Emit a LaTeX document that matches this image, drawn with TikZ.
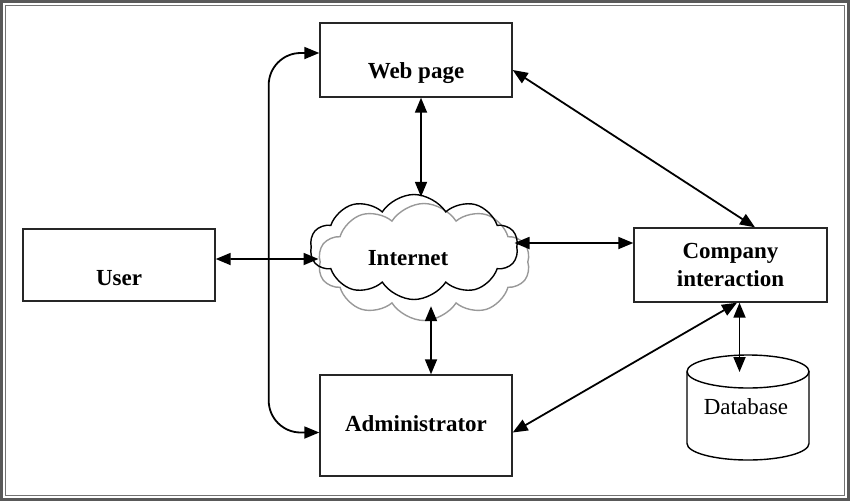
\documentclass[tikz,border=0pt]{standalone}
\usepackage{fontspec}
\setmainfont{Liberation Serif}
\usetikzlibrary{arrows.meta,shapes.symbols,calc}
\begin{document}
\begin{tikzpicture}[x=1pt,y=-1pt,
  box/.style={draw=black!85, line width=1.4pt, minimum width=192pt, minimum height=74pt, inner sep=0pt},
  lbl/.style={font=\fontsize{23}{28}\selectfont\bfseries, align=center, inner sep=0pt},
  arr/.style={line width=1.8pt, {Triangle[length=15pt,width=12pt]}-{Triangle[length=15pt,width=12pt]}},
  cl/.style={cloud, cloud puffs=10, cloud puff arc=115, cloud ignores aspect, draw, line width=1.4pt, inner sep=0pt}]
\useasboundingbox (0,0) rectangle (850,501);
% frame
\draw[line width=3pt, black!65] (1.5,1.5) rectangle (848.5,499.5);
\draw[line width=1.2pt, black!55] (5.5,5.5) rectangle (844.5,495.5);
% boxes
\node[box] (wp) at (416,60) {};
\node[box, minimum height=72pt] (user) at (119,265) {};
\node[box, minimum height=101pt] (admin) at (416,425.5) {};
\node[box, minimum width=193pt] (comp) at (730.5,265) {};
\node[lbl] at (416,73) {Web page};
\node[lbl] at (119,278) {User};
\node[lbl] at (416,424) {Administrator};
\node[lbl] at (730.5,265) {Company\\interaction};
% clouds
\node[cl, draw=black!40, minimum width=212pt, minimum height=117pt] (cloud2) at (424,262) {};
\node[cl, minimum width=208pt, minimum height=105pt] (cloud) at (414,247) {};
\node[lbl] (inet) at (408,258) {Internet};
% database
\draw[line width=1.4pt] (748,371.5) ellipse [x radius=61pt, y radius=16.5pt];
\draw[line width=1.4pt] (687,371.5) -- (687,443.5) arc[start angle=180, end angle=360, x radius=61pt, y radius=16.5pt] -- (809,371.5);
\coordinate (dbtop) at (739.5,372);
\node[font=\fontsize{23}{28}\selectfont, inner sep=0pt] (db) at (746,407) {Database};
% connectors
\draw[arr] ($(wp.south)+(5,0)$) -- ($(cloud.north)+(7,3)$);
\draw[arr] ($(user.east)+(0,-6)$) -- ($(cloud.west)+(8,12)$);
\draw[arr] ($(cloud.east)+(-3,-4)$) -- ($(comp.west)+(0,-22)$);
\draw[arr] ($(cloud.south)+(17,6)$) -- ($(admin.north)+(15,0)$);
\draw[arr] ($(wp.east)+(0,10)$) -- ($(comp.north)+(24.5,0)$);
\draw[arr] ($(admin.east)+(0,7)$) -- ($(comp.south)+(6.5,0)$);
\draw[arr] ($(comp.south)+(9,0)$) -- (dbtop);
\draw[arr, rounded corners=32pt] ($(wp.west)+(0,-7)$) -| ($(user.east)+(53,0)$) |- ($(admin.west)+(0,7)$);
\end{tikzpicture}
\end{document}
